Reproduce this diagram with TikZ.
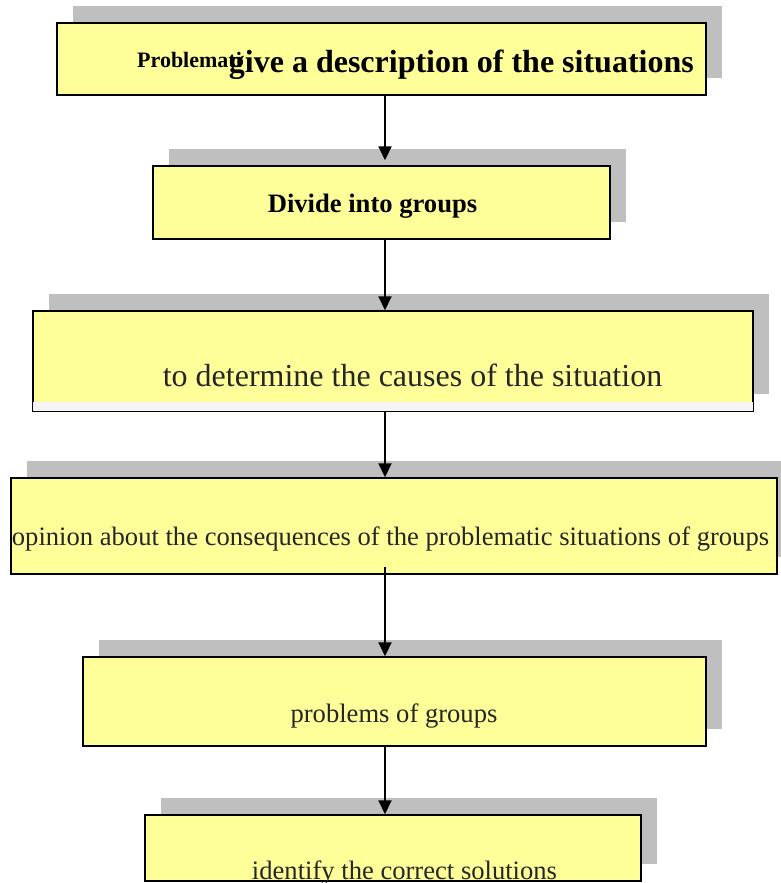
\documentclass[tikz,border=0pt]{standalone}
\usepackage{fontspec}
\setmainfont{Liberation Serif}
\usetikzlibrary{arrows.meta, shadows}

\definecolor{boxyellow}{HTML}{FFFF99}
\definecolor{shadowgray}{HTML}{BFBFBF}
\definecolor{textgray}{HTML}{262626}

\tikzset{
    box/.style={draw=black, line width=1.5pt, fill=boxyellow, inner sep=0pt,
        general shadow={fill=shadowgray, shadow xshift=16pt, shadow yshift=17pt}},
    boldtxt/.style={anchor=base, inner sep=0pt, font=\bfseries\fontsize{26.6}{30}\selectfont},
    plaintxt/.style={anchor=base, inner sep=0pt, text=textgray, font=\fontsize{26.6}{30}\selectfont},
    arr/.style={-{Triangle[length=14pt, width=13pt]}, line width=2pt}
}

\begin{document}
\begin{tikzpicture}[x=1pt, y=-1pt]
    \useasboundingbox (0,0) rectangle (780,883);

    % Boxes
    \node[box, minimum width=649pt, minimum height=72pt] (b1) at (381.5,59) {};
    \node[box, minimum width=457pt, minimum height=73pt] (b2) at (381.5,202.5) {};
    \node[box, minimum width=720pt, minimum height=100pt] (b3) at (393,361) {};
    \fill[black!4] ([xshift=1pt, yshift=1pt]b3.south west) rectangle ([xshift=-1pt, yshift=10pt]b3.south east);
    \node[box, minimum width=766pt, minimum height=96pt] (b4) at (394,526) {};
    \node[box, minimum width=623pt, minimum height=89pt] (b5) at (394.5,701.5) {};
    \node[box, minimum width=496pt, minimum height=66pt] (b6) at (393,848) {};

    % Texts
    \node[boldtxt, anchor=base west, font=\bfseries\fontsize{22}{26}\selectfont] (t1a) at (137,67) {Problemati};
    \node[boldtxt, anchor=base east, font=\bfseries\fontsize{32}{36}\selectfont] (t1) at (694,72) {give a description of the situations};
    \node[boldtxt] (t2) at (372.5,212) {Divide into groups};
    \node[plaintxt, font=\fontsize{32}{36}\selectfont] (t3) at (412.5,386) {to determine the causes of the situation};
    \node[plaintxt] (t4) at (390.5,545) {opinion about the consequences of the problematic situations of groups};
    \node[plaintxt] (t5) at (394,722) {problems of groups};
    \node[plaintxt] (t6) at (404.5,879) {identify the correct solutions};

    % Arrows
    \coordinate (ax) at (385,0);
    \draw[arr, shorten >=5pt] (b1.south -| ax) -- (b2.north -| ax);
    \draw[arr] (b2.south -| ax) -- (b3.north -| ax);
    \draw[arr] (b3.south -| ax) -- (b4.north -| ax);
    \draw[arr] ([yshift=8pt]b4.south -| ax) -- (b5.north -| ax);
    \draw[arr] (b5.south -| ax) -- (b6.north -| ax);
\end{tikzpicture}
\end{document}
